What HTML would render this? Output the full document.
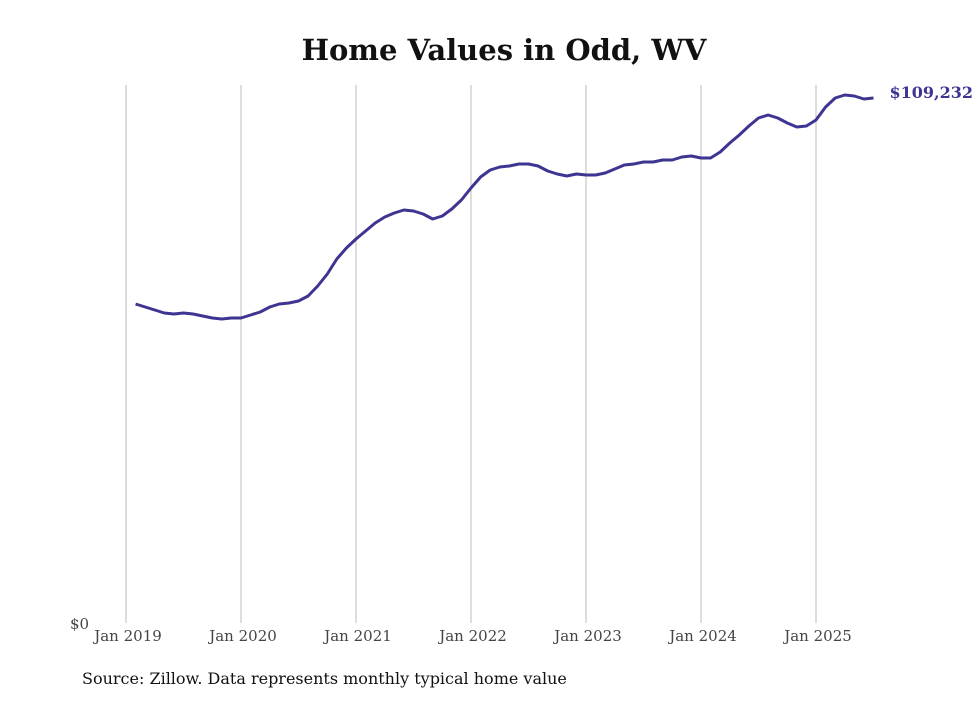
<!DOCTYPE html>
<html><head><meta charset="utf-8">
<style>
body{margin:0;background:#fff;}
svg text{font-family:"DejaVu Serif","Liberation Serif",serif;}
</style></head>
<body>
<svg id="chart" width="980" height="699" viewBox="0 0 980 699">
<rect width="980" height="699" fill="#fff"/>
<text x="504" y="60" text-anchor="middle" font-size="29" font-weight="bold" fill="#111">Home Values in Odd, WV</text>
<g id="grid"></g>
<g id="xticks"></g>
<text x="70" y="629" font-size="15" fill="#444">$0</text>
<path id="line" fill="none" stroke="#3d3591" stroke-width="3" stroke-linejoin="round"/>
<text id="endlabel" font-size="16" font-weight="bold" fill="#3d3591"></text>
<text x="82" y="684" font-size="16" fill="#111">Source: Zillow. Data represents monthly typical home value</text>
</svg>
<script>
const tickLabels=["Jan 2019","Jan 2020","Jan 2021","Jan 2022","Jan 2023","Jan 2024","Jan 2025"];
const startMonth=1; // Feb 2019 (months since Jan 2019)
const values=[66371,65747,65123,64499,64291,64499,64291,63874,63458,63250,63458,63458,
64082,64707,65747,66371,66579,66995,68036,70116,72613,75734,78023,79895,
81560,83224,84472,85305,85929,85721,85097,84056,84680,86137,88009,90506,
92795,94251,94875,95083,95500,95500,95083,94043,93419,93003,93419,93211,
93211,93627,94459,95291,95500,95916,95916,96332,96332,96956,97164,96748,
96748,97996,99869,101533,103406,105070,105694,105070,104030,103198,103406,104654,
107359,109232,109856,109648,109024,109232];
const lastLabel="$109,232";
const x0=126,pxPerMonth=115/12,yBase=623,yMaxPx=98,yMaxVal=109232;
const xs=m=>x0+m*pxPerMonth;
const ys=v=>yBase-(v/yMaxVal)*(yBase-yMaxPx);
const ns="http://www.w3.org/2000/svg";
const grid=document.getElementById('grid'),xt=document.getElementById('xticks');
tickLabels.forEach((t,i)=>{
 const x=xs(i*12);
 const l=document.createElementNS(ns,'line');
 l.setAttribute('x1',x);l.setAttribute('x2',x);l.setAttribute('y1',85);l.setAttribute('y2',623);
 l.setAttribute('stroke','#bbb');l.setAttribute('stroke-width','1');
 
 
 grid.appendChild(l);
 const tx=document.createElementNS(ns,'text');
 tx.setAttribute('x',x+2);tx.setAttribute('y',641);tx.setAttribute('text-anchor','middle');
 tx.setAttribute('font-size','15');tx.setAttribute('fill','#444');
 tx.textContent=t;
 
 
 xt.appendChild(tx);
});
let d='';
values.forEach((v,i)=>{d+=(i?'L':'M')+xs(startMonth+i).toFixed(1)+','+ys(v).toFixed(1);});
document.getElementById('line').setAttribute('d',d);
const el=document.getElementById('endlabel');
const li=values.length-1;
el.setAttribute('x',xs(startMonth+li)+16);el.setAttribute('y',ys(values[li])+0);
el.textContent=lastLabel;
</script>
</body></html>
